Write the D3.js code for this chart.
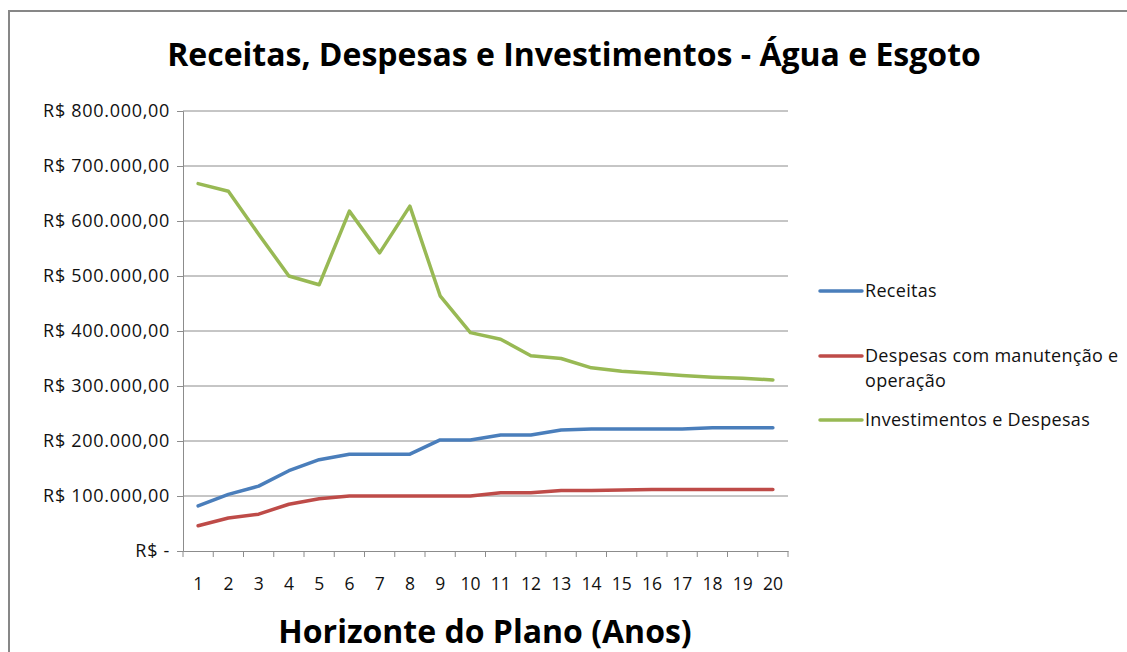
<!DOCTYPE html>
<html>
<head>
<meta charset="utf-8">
<script src="https://cdn.jsdelivr.net/npm/d3@7"></script>
<style>
  html, body { margin: 0; padding: 0; background: #fff; }
  svg { display: block; }
</style>
</head>
<body>
<div id="chart"></div>
<script>
// Data
const years = d3.range(1, 21).map(String);
const receitas = [82000, 103000, 118000, 146000, 166000, 176000, 176000, 176000, 202000, 202000,
                  211000, 211000, 220000, 222000, 222000, 222000, 222000, 224000, 224000, 224000];
const despesas = [46000, 60000, 67000, 85000, 95000, 100000, 100000, 100000, 100000, 100000,
                  106000, 106000, 110000, 110000, 111000, 112000, 112000, 112000, 112000, 112000];
const investimentos = [668000, 654000, 576000, 500000, 484000, 618000, 542000, 627000, 464000, 397000,
                       385000, 355000, 350000, 333000, 327000, 323000, 319000, 316000, 314000, 311000];
const yTicks = [0, 100000, 200000, 300000, 400000, 500000, 600000, 700000, 800000];
const seriesNames = ['Receitas', 'Despesas com manutenção e operação', 'Investimentos e Despesas'];
const seriesColors = ['#4a7ebb', '#be4b48', '#98b954'];

const W = 1127, H = 652;
const margin = { top: 111, right: 339, bottom: 101, left: 183 };
const width = W - margin.left - margin.right;
const height = H - margin.top - margin.bottom;
const font = 'Open Sans, Noto Sans, sans-serif';

const svg = d3.select('#chart').append('svg')
  .attr('width', W)
  .attr('height', H);

// chart frame
svg.append('rect')
  .attr('x', 9).attr('y', 11)
  .attr('width', W + 10).attr('height', H + 10)
  .attr('fill', 'none')
  .attr('stroke', '#878787')
  .attr('stroke-width', 2);

const g = svg.append('g').attr('transform', `translate(${margin.left},${margin.top})`);

const x = d3.scaleBand().domain(years).range([0, width]);
const y = d3.scaleLinear().domain([0, 800000]).range([height, 0]);

const fmt = v => v === 0 ? 'R$ -' : 'R$ ' + d3.format(',.2f')(v).replace(/,/g, 'X').replace('.', ',').replace(/X/g, '.');

// gridlines
g.append('g')
  .selectAll('line')
  .data(yTicks.slice(1))
  .join('line')
  .attr('x1', 0).attr('x2', width)
  .attr('y1', d => y(d)).attr('y2', d => y(d))
  .attr('stroke', '#8c8c8c')
  .attr('stroke-width', 1);

// y axis
const yAxis = g.append('g')
  .call(d3.axisLeft(y).tickValues(yTicks).tickSize(6).tickPadding(7).tickFormat(fmt));
yAxis.select('.domain').attr('stroke', '#8c8c8c');
yAxis.selectAll('.tick line').attr('stroke', '#8c8c8c');
yAxis.selectAll('text')
  .style('font-family', font)
  .style('font-size', '18px')
  .style('letter-spacing', '0.7px')
  .attr('fill', '#111');

// x axis
const xAxis = g.append('g')
  .attr('transform', `translate(0,${height})`)
  .call(d3.axisBottom(x).tickSize(0).tickPadding(27));
xAxis.select('.domain').attr('stroke', '#8c8c8c');
xAxis.selectAll('text')
  .style('font-family', font)
  .style('font-size', '17.5px')
  .attr('fill', '#111');
// tick marks at category boundaries
g.append('g')
  .selectAll('line')
  .data(years.concat(['end']))
  .join('line')
  .attr('x1', (d, i) => i < years.length ? x(d) : width)
  .attr('x2', (d, i) => i < years.length ? x(d) : width)
  .attr('y1', height).attr('y2', height + 6)
  .attr('stroke', '#8c8c8c');

// lines
const line = d3.line()
  .x((d, i) => x(years[i]) + x.bandwidth() / 2)
  .y(d => y(d));

[receitas, despesas, investimentos].forEach((s, i) => {
  g.append('path')
    .datum(s)
    .attr('d', line)
    .attr('fill', 'none')
    .attr('stroke', seriesColors[i])
    .attr('stroke-width', 3.5)
    .attr('stroke-linejoin', 'round')
    .attr('stroke-linecap', 'round');
});

// title
svg.append('text')
  .attr('x', 574).attr('y', 66)
  .attr('text-anchor', 'middle')
  .style('font-family', font)
  .style('font-size', '32px')
  .style('font-weight', 'bold')
  .text('Receitas, Despesas e Investimentos - Água e Esgoto');

// x axis title
svg.append('text')
  .attr('x', 485).attr('y', 643)
  .attr('text-anchor', 'middle')
  .style('font-family', font)
  .style('font-size', '32px')
  .style('font-weight', 'bold')
  .text('Horizonte do Plano (Anos)');

// legend
const legendY = [291, 356, 420];
const legend = svg.append('g');
seriesNames.forEach((name, i) => {
  const row = legend.append('g').attr('transform', `translate(820,${legendY[i]})`);
  row.append('line')
    .attr('x1', 0).attr('x2', 42)
    .attr('y1', 0).attr('y2', 0)
    .attr('stroke', seriesColors[i])
    .attr('stroke-width', 3.5)
    .attr('stroke-linecap', 'round');
  const t = row.append('text')
    .attr('x', 45).attr('y', 6)
    .style('font-family', font)
    .style('font-size', '18px')
    .style('letter-spacing', '0.3px')
    .attr('fill', '#111');
  if (i === 1) {
    t.append('tspan').attr('x', 45).text('Despesas com manutenção e');
    t.append('tspan').attr('x', 45).attr('dy', 25).text('operação');
  } else {
    t.text(name);
  }
});
</script>
</body>
</html>
